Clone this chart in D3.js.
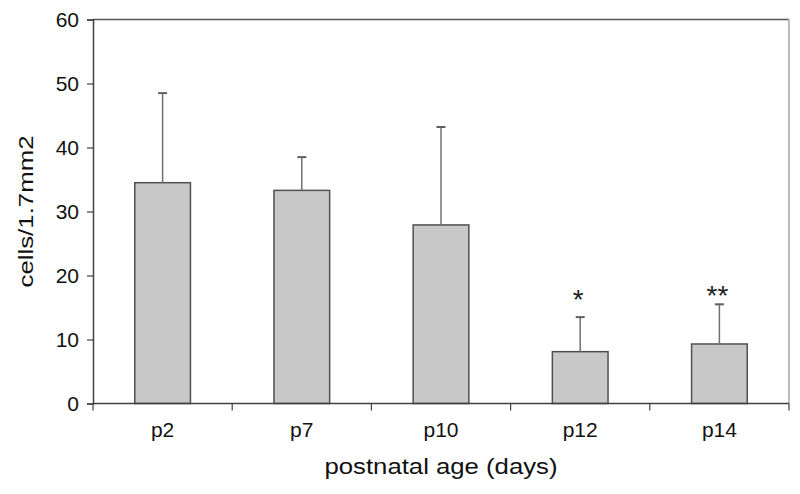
<!DOCTYPE html>
<html>
<head>
<meta charset="utf-8">
<script src="https://cdn.jsdelivr.net/npm/d3@7"></script>
<style>
  html, body { margin: 0; padding: 0; background: #fff; }
  svg { display: block; font-family: "Liberation Sans", Arial, sans-serif; }
</style>
</head>
<body>
<svg id="chart" width="800" height="494"></svg>
<script>
// ---- data ----
const categories = ["p2", "p7", "p10", "p12", "p14"];
const means = [34.5, 33.3, 27.9, 8.1, 9.3];
const errors = [14.0, 5.2, 15.3, 5.4, 6.2];
const sigLabels = ["", "", "", "*", "**"];
const sigY = [null, null, null, 17.3, 18.0];
const yTicks = [0, 10, 20, 30, 40, 50, 60];
const yTitle = "cells/1.7mm2";
const xTitle = "postnatal age (days)";

// ---- layout ----
const svg = d3.select("#chart");
const m = { left: 93, right: 789, top: 19.5, bottom: 403.5 };

const x = d3.scaleBand().domain(categories).range([m.left, m.right])
  .paddingInner(0.6).paddingOuter(0.3);
const xCat = d3.scaleBand().domain(categories).range([m.left, m.right]).padding(0);
const y = d3.scaleLinear().domain([0, 60]).range([m.bottom, m.top]);

// frame: top (dark) and right (light)
svg.append("line").attr("x1", m.left).attr("x2", m.right)
  .attr("y1", y(60)).attr("y2", y(60))
  .attr("stroke", "#555").attr("stroke-width", 1.5);
svg.append("line").attr("x1", m.right).attr("x2", m.right)
  .attr("y1", y(60)).attr("y2", m.bottom)
  .attr("stroke", "#bdbdbd").attr("stroke-width", 2);

// bars
const g = svg.append("g");
categories.forEach((c, i) => {
  g.append("rect")
    .attr("x", x(c)).attr("y", y(means[i]))
    .attr("width", x.bandwidth()).attr("height", y(0) - y(means[i]))
    .attr("fill", "#c8c8c8").attr("stroke", "#505050").attr("stroke-width", 1.5);
  const cx = x(c) + x.bandwidth() / 2;
  const top = y(means[i] + errors[i]);
  g.append("line").attr("x1", cx).attr("x2", cx)
    .attr("y1", y(means[i])).attr("y2", top)
    .attr("stroke", "#707070").attr("stroke-width", 1.5);
  g.append("line").attr("x1", cx - 4.5).attr("x2", cx + 4.5)
    .attr("y1", top).attr("y2", top)
    .attr("stroke", "#606060").attr("stroke-width", 2);
  if (sigLabels[i]) {
    g.append("text").attr("x", cx - 2).attr("y", y(sigY[i]))
      .attr("text-anchor", "middle").attr("dy", "0.58em")
      .attr("font-size", 28).attr("fill", "#222")
      .text(sigLabels[i]);
  }
});

// y axis
const yAxis = svg.append("g").attr("transform", `translate(${m.left},0)`)
  .call(d3.axisLeft(y).tickValues(yTicks).tickSize(6).tickPadding(8));
yAxis.select(".domain").attr("stroke", "#404040").attr("stroke-width", 1.5);
yAxis.selectAll(".tick line").attr("stroke", "#404040").attr("stroke-width", 1.2);
yAxis.selectAll(".tick text").attr("font-size", 21).attr("fill", "#111")
  .attr("font-family", "Liberation Sans, Arial, sans-serif");

// x axis (ticks at category boundaries)
const xAxisG = svg.append("g");
xAxisG.append("line").attr("x1", m.left).attr("x2", m.right)
  .attr("y1", m.bottom).attr("y2", m.bottom)
  .attr("stroke", "#404040").attr("stroke-width", 1.5);
const bounds = categories.map(c => xCat(c)).concat([xCat(categories[categories.length - 1]) + xCat.bandwidth()]);
xAxisG.selectAll("line.t").data(bounds).enter().append("line")
  .attr("x1", d => d).attr("x2", d => d)
  .attr("y1", m.bottom).attr("y2", m.bottom + 7)
  .attr("stroke", "#404040").attr("stroke-width", 1.2);
xAxisG.selectAll("text").data(categories).enter().append("text")
  .attr("x", d => xCat(d) + xCat.bandwidth() / 2).attr("y", 437)
  .attr("text-anchor", "middle").attr("font-size", 21).attr("fill", "#111")
  .text(d => d);

// titles
svg.append("text")
  .attr("transform", `translate(33, ${(m.top + m.bottom) / 2}) rotate(-90)`)
  .attr("text-anchor", "middle").attr("font-size", 21).attr("fill", "#111")
  .attr("textLength", 152).attr("lengthAdjust", "spacingAndGlyphs")
  .text(yTitle);
svg.append("text")
  .attr("x", (m.left + m.right) / 2).attr("y", 474)
  .attr("text-anchor", "middle").attr("font-size", 22).attr("fill", "#111")
  .attr("textLength", 233).attr("lengthAdjust", "spacingAndGlyphs")
  .text(xTitle);
</script>
</body>
</html>
